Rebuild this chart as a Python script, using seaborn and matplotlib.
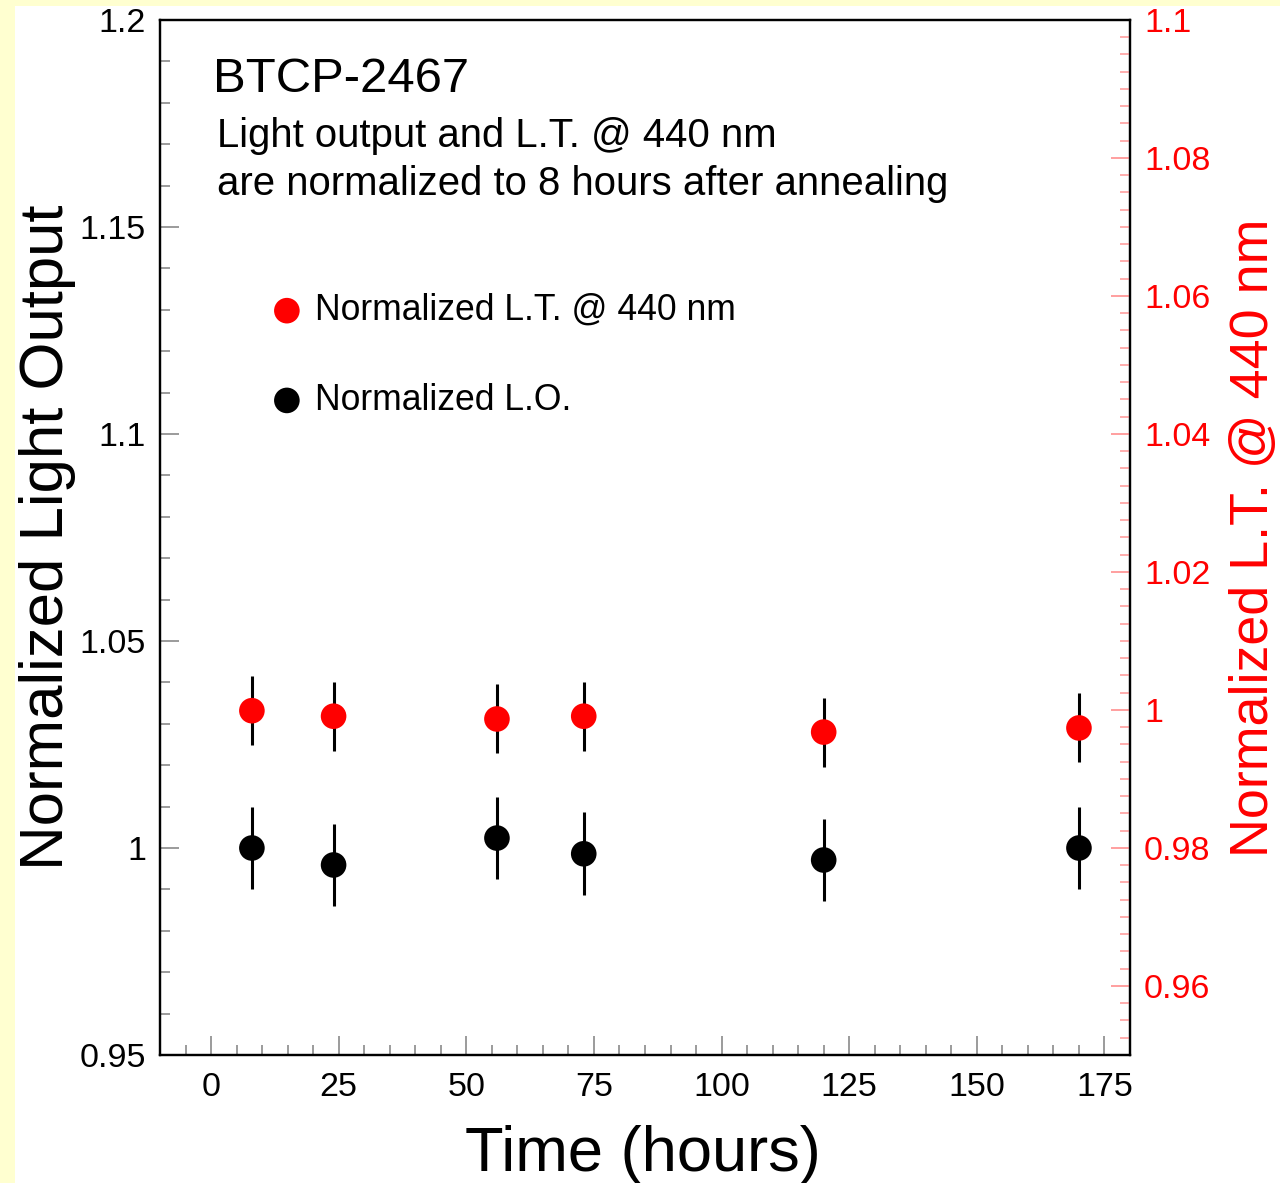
import matplotlib
matplotlib.use("Agg")
import matplotlib.pyplot as plt
from matplotlib.patches import Rectangle
from matplotlib.ticker import MultipleLocator
import numpy as np
import pandas as pd
import seaborn as sns

# ---------------- data ----------------
time_hours = [8, 24, 56, 73, 120, 170]
light_output = [1.0, 0.9959, 1.0024, 0.9986, 0.9971, 1.0]
light_output_err = [0.01, 0.01, 0.01, 0.01, 0.01, 0.01]
transmittance = [0.9999, 0.9991, 0.9987, 0.9991, 0.9968, 0.9974]
transmittance_err = [0.005, 0.005, 0.005, 0.005, 0.005, 0.005]

x_ticks = [0, 25, 50, 75, 100, 125, 150, 175]
left_ticks = [0.95, 1.0, 1.05, 1.1, 1.15, 1.2]
left_tick_labels = ["0.95", "1", "1.05", "1.1", "1.15", "1.2"]
right_ticks = [0.96, 0.98, 1.0, 1.02, 1.04, 1.06, 1.08, 1.1]
right_tick_labels = ["0.96", "0.98", "1", "1.02", "1.04", "1.06", "1.08", "1.1"]

title_text = "BTCP-2467"
note_lines = ["Light output and L.T. @ 440 nm",
              "are normalized to 8 hours after annealing"]
label_lt = "Normalized L.T. @ 440 nm"
label_lo = "Normalized L.O."

df_lo = pd.DataFrame({"t": time_hours, "v": light_output, "e": light_output_err})
df_lt = pd.DataFrame({"t": time_hours, "v": transmittance, "e": transmittance_err})

# ---------------- style ----------------
sns.set_style("ticks")
plt.rcParams["font.family"] = ["Liberation Sans", "DejaVu Sans"]
plt.rcParams["text.color"] = "black"
plt.rcParams["axes.labelcolor"] = "black"
plt.rcParams["xtick.labelcolor"] = "black"
plt.rcParams["ytick.labelcolor"] = "black"

W, H = 1280, 1183
fig = plt.figure(figsize=(W / 100, H / 100), dpi=100, facecolor="#FFFFD0")
fig.patches.append(Rectangle((15 / W, 0), 1 - 15 / W, 1 - 6 / H,
                             transform=fig.transFigure, facecolor="white",
                             edgecolor="none", zorder=-10))

L, R, T, B = 160, 1130, 20, 1055
ax = fig.add_axes([L / W, 1 - B / H, (R - L) / W, (B - T) / H])
ax.set_facecolor("white")
ax2 = ax.twinx()

# ---------------- marks ----------------
ax.errorbar(df_lo["t"], df_lo["v"], yerr=df_lo["e"], fmt="none",
            ecolor="black", elinewidth=2.2, capsize=0, zorder=2)
sns.scatterplot(data=df_lo, x="t", y="v", ax=ax, color="black", s=340,
                edgecolor="none", zorder=3, label=label_lo, legend=False)

ax2.errorbar(df_lt["t"], df_lt["v"], yerr=df_lt["e"], fmt="none",
             ecolor="black", elinewidth=2.2, capsize=0, zorder=2)
sns.scatterplot(data=df_lt, x="t", y="v", ax=ax2, color="red", s=340,
                edgecolor="none", zorder=3, label=label_lt, legend=False)

# ---------------- axes ----------------
ax.set_xlim(-10, 180)
ax.set_ylim(0.95, 1.2)
ax2.set_ylim(0.95, 1.1)

ax.set_xticks(x_ticks)
ax.set_xticklabels([str(v) for v in x_ticks])
ax.xaxis.set_minor_locator(MultipleLocator(5))
ax.set_yticks(left_ticks)
ax.set_yticklabels(left_tick_labels)
ax.yaxis.set_minor_locator(MultipleLocator(0.01))
ax2.set_yticks(right_ticks)
ax2.set_yticklabels(right_tick_labels)
ax2.yaxis.set_minor_locator(MultipleLocator(0.0025))

tick_gray = "#8a8a8a"
ax.tick_params(axis="both", which="major", direction="in", length=14,
               width=1.2, color=tick_gray, labelcolor="black", labelsize=24.5,
               top=False, right=False)
ax.tick_params(axis="both", which="minor", direction="in", length=7,
               width=1.2, color=tick_gray, top=False, right=False)
ax.tick_params(axis="y", which="major", pad=10)
ax.tick_params(axis="x", which="major", pad=12)
ax2.tick_params(axis="y", which="major", direction="in", length=14, width=1.2,
                color="#ff8f8f", labelcolor="red", labelsize=24.5, pad=10)
ax2.tick_params(axis="y", which="minor", direction="in", length=7, width=1.2,
                color="#ff9f9f")

for a in (ax, ax2):
    for s in a.spines.values():
        s.set_color("black")
        s.set_linewidth(1.6)
        s.set_visible(True)

ax.set_xlabel("Time (hours)", fontsize=45.5, color="black")
ax.xaxis.set_label_coords(0.498, -0.0965)
ax.xaxis.label.set(va="center", ha="center")

ax.set_ylabel("Normalized Light Output", fontsize=44.5, color="black")
ax.yaxis.set_label_coords(-0.1155, 0.5005)
ax.yaxis.label.set(rotation_mode="default", va="center", ha="center")

ax2.set_ylabel(label_lt, fontsize=38.8, color="red")
ax2.yaxis.set_label_coords(1.1278, 0.5)
ax2.yaxis.label.set(rotation=90, rotation_mode="default", va="center", ha="center")

# ---------------- texts ----------------
fig.text(213 / W, 1 - 92 / H, title_text, fontsize=35.3, va="baseline",
         ha="left", color="black")
fig.text(217 / W, 1 - 147 / H, note_lines[0], fontsize=28.9, va="baseline",
         ha="left", color="black")
fig.text(217 / W, 1 - 195 / H, note_lines[1], fontsize=28.9, va="baseline",
         ha="left", color="black")

# ---------------- legend ----------------
h1, l1 = ax.get_legend_handles_labels()
h2, l2 = ax2.get_legend_handles_labels()
leg = ax2.legend(h2 + h1, l2 + l1, loc="upper left",
                 bbox_to_anchor=((273 - L) / (R - L), (B - 293) / (B - T)),
                 frameon=False, fontsize=25.6, handlelength=0.78,
                 handletextpad=0.4, labelspacing=1.54, borderpad=0,
                 borderaxespad=0, markerscale=1.0)
for t in leg.get_texts():
    t.set_color("black")

fig.savefig("out.png", dpi=100, facecolor=fig.get_facecolor())
